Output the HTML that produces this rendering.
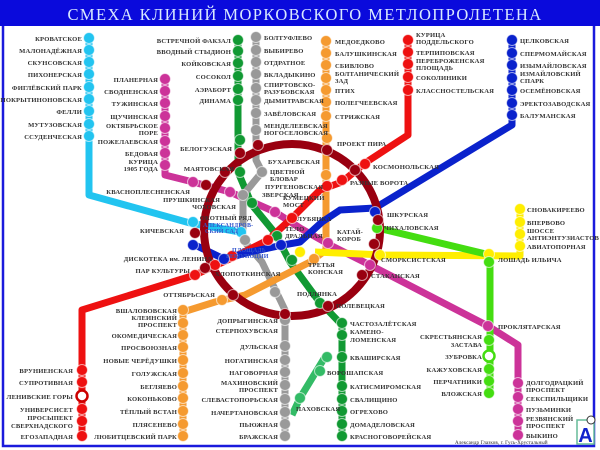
<!DOCTYPE html>
<html><head><meta charset="utf-8"><style>
html,body{margin:0;padding:0;background:#fff;}
svg{display:block;}
text{font-family:"Liberation Serif","DejaVu Serif",serif;font-weight:bold;font-size:6.6px;fill:#333;letter-spacing:0.15px;}
.r{text-anchor:end;}
</style></head><body>
<svg width="600" height="450" viewBox="0 0 600 450" xmlns="http://www.w3.org/2000/svg">
<rect x="0" y="0" width="600" height="450" fill="#fff"/>
<rect x="0" y="0" width="600" height="26" fill="#0a0adc"/>
<text x="305" y="20" style="font-size:16.5px;fill:#d8e8ff;font-weight:normal;text-anchor:middle;letter-spacing:1.4px">СМЕХА КЛИНИЙ МОРКОВСКОГО МЕТЛОПРОЛЕТЕНА</text>
<path d="M3 26 V446 H594 V26" fill="none" stroke="#1a1adc" stroke-width="2.5"/>

<g fill="none" stroke-width="7" stroke-linejoin="round">
<path d="M89 38 V195 L190 223 L240 232" stroke="#22c4f0"/>
<path d="M165 79 V175 L193 182 L230 192 L275 212 L300 228 L330 245 L370 265 L488 326 L518 345 V435" stroke="#cc3399"/>
<path d="M238 40 V172 L252 205 L275 233 L290 262 L318 300 L342 325 V436" stroke="#119933"/>
<path d="M325 357 L300 398 L292 415" stroke="#33bb66"/>
<path d="M256 37 V160 L262 172 L243 195 L243 240 L262 262 L285 310 V437" stroke="#999"/>
<path d="M326 41 V250 L310 262 L245 295 L215 302 L183 312 V436" stroke="#f59a30"/>
<path d="M408 40 V135 L365 163 L342 182 L320 190 L292 218 L268 240 L232 258 L195 275 L82 310 V436" stroke="#ee1111"/>
<path d="M512 40 V125 L375 208 L340 210 L322 222 L300 242 L283 245 L250 252 L224 259 L195 245" stroke="#0a22cc"/>
<path d="M520 209 V256 L385 255 L315 252" stroke="#ffee00"/>
<path d="M378 228 L490 255 V393" stroke="#44dd11"/>
<ellipse cx="292" cy="230" rx="88" ry="86" stroke="#990010" stroke-width="8"/>
</g>

<g stroke="#fff" stroke-width="1" stroke-opacity="0.6">
<g fill="#22c4f0"><circle cx="89" cy="38" r="5.5"/><circle cx="89" cy="50" r="5.5"/><circle cx="89" cy="62" r="5.5"/><circle cx="89" cy="74" r="5.5"/><circle cx="89" cy="87" r="5.5"/><circle cx="89" cy="99" r="5.5"/><circle cx="89" cy="111" r="5.5"/><circle cx="89" cy="124" r="5.5"/><circle cx="89" cy="136" r="5.5"/><circle cx="193" cy="222" r="5.5"/><circle cx="241" cy="232" r="5.5"/></g>
<g fill="#cc3399"><circle cx="165" cy="79" r="5.5"/><circle cx="165" cy="91" r="5.5"/><circle cx="165" cy="103" r="5.5"/><circle cx="165" cy="116" r="5.5"/><circle cx="165" cy="128" r="5.5"/><circle cx="165" cy="141" r="5.5"/><circle cx="165" cy="153" r="5.5"/><circle cx="165" cy="165" r="5.5"/><circle cx="193" cy="182" r="5.5"/><circle cx="230" cy="192" r="5.5"/><circle cx="275" cy="212" r="5.5"/><circle cx="328" cy="243" r="5.5"/><circle cx="370" cy="265" r="5.5"/><circle cx="488" cy="326" r="5.5"/><circle cx="518" cy="383" r="5.5"/><circle cx="518" cy="397" r="5.5"/><circle cx="518" cy="409" r="5.5"/><circle cx="518" cy="421" r="5.5"/><circle cx="518" cy="435" r="5.5"/></g>
<g fill="#119933"><circle cx="238" cy="40" r="5.5"/><circle cx="238" cy="51" r="5.5"/><circle cx="238" cy="63" r="5.5"/><circle cx="238" cy="76" r="5.5"/><circle cx="238" cy="89" r="5.5"/><circle cx="238" cy="100" r="5.5"/><circle cx="240" cy="140" r="5.5"/><circle cx="240" cy="172" r="5.5"/><circle cx="252" cy="203" r="5.5"/><circle cx="277" cy="236" r="5.5"/><circle cx="292" cy="260" r="5.5"/><circle cx="320" cy="303" r="5.5"/><circle cx="342" cy="323" r="5.5"/><circle cx="342" cy="335" r="5.5"/><circle cx="342" cy="357" r="5.5"/><circle cx="342" cy="386" r="5.5"/><circle cx="342" cy="399" r="5.5"/><circle cx="342" cy="411" r="5.5"/><circle cx="342" cy="424" r="5.5"/><circle cx="342" cy="436" r="5.5"/></g>
<g fill="#33bb66"><circle cx="327" cy="357" r="5.5"/><circle cx="320" cy="371" r="5.5"/><circle cx="300" cy="398" r="5.5"/></g>
<g fill="#999"><circle cx="256" cy="37" r="5.5"/><circle cx="256" cy="50" r="5.5"/><circle cx="256" cy="62" r="5.5"/><circle cx="256" cy="74" r="5.5"/><circle cx="256" cy="88" r="5.5"/><circle cx="256" cy="100" r="5.5"/><circle cx="256" cy="113" r="5.5"/><circle cx="256" cy="130" r="5.5"/><circle cx="262" cy="172" r="5.5"/><circle cx="243" cy="195" r="5.5"/><circle cx="245" cy="240" r="5.5"/><circle cx="275" cy="292" r="5.5"/><circle cx="285" cy="320" r="5.5"/><circle cx="285" cy="346" r="5.5"/><circle cx="285" cy="360" r="5.5"/><circle cx="285" cy="372" r="5.5"/><circle cx="285" cy="385" r="5.5"/><circle cx="285" cy="399" r="5.5"/><circle cx="285" cy="412" r="5.5"/><circle cx="285" cy="424" r="5.5"/><circle cx="285" cy="436" r="5.5"/></g>
<g fill="#f59a30"><circle cx="326" cy="41" r="5.5"/><circle cx="326" cy="53" r="5.5"/><circle cx="326" cy="65" r="5.5"/><circle cx="326" cy="78" r="5.5"/><circle cx="326" cy="90" r="5.5"/><circle cx="326" cy="102" r="5.5"/><circle cx="326" cy="116" r="5.5"/><circle cx="327" cy="138" r="5.5"/><circle cx="326" cy="175" r="5.5"/><circle cx="314" cy="259" r="5.5"/><circle cx="222" cy="300" r="5.5"/><circle cx="183" cy="310" r="5.5"/><circle cx="183" cy="323" r="5.5"/><circle cx="183" cy="335" r="5.5"/><circle cx="183" cy="347" r="5.5"/><circle cx="183" cy="360" r="5.5"/><circle cx="183" cy="373" r="5.5"/><circle cx="183" cy="386" r="5.5"/><circle cx="183" cy="398" r="5.5"/><circle cx="183" cy="411" r="5.5"/><circle cx="183" cy="424" r="5.5"/><circle cx="183" cy="436" r="5.5"/></g>
<g fill="#ee1111"><circle cx="408" cy="40" r="5.5"/><circle cx="408" cy="52" r="5.5"/><circle cx="408" cy="64" r="5.5"/><circle cx="408" cy="77" r="5.5"/><circle cx="408" cy="90" r="5.5"/><circle cx="365" cy="164" r="5.5"/><circle cx="342" cy="180" r="5.5"/><circle cx="327" cy="186" r="5.5"/><circle cx="292" cy="218" r="5.5"/><circle cx="268" cy="240" r="5.5"/><circle cx="232" cy="256" r="5.5"/><circle cx="215" cy="265" r="5.5"/><circle cx="195" cy="275" r="5.5"/><circle cx="82" cy="370" r="5.5"/><circle cx="82" cy="382" r="5.5"/><circle cx="82" cy="409" r="5.5"/><circle cx="82" cy="421" r="5.5"/><circle cx="82" cy="436" r="5.5"/></g>
<circle cx="82" cy="396" r="5.5" fill="#fff" stroke="#cc0000" stroke-width="2.5" stroke-opacity="1"/>
<g fill="#0a22cc"><circle cx="512" cy="40" r="5.5"/><circle cx="512" cy="53" r="5.5"/><circle cx="512" cy="65" r="5.5"/><circle cx="512" cy="78" r="5.5"/><circle cx="512" cy="90" r="5.5"/><circle cx="512" cy="103" r="5.5"/><circle cx="512" cy="115" r="5.5"/><circle cx="375" cy="212" r="5.5"/><circle cx="281" cy="245" r="5.5"/><circle cx="224" cy="259" r="5.5"/><circle cx="193" cy="245" r="5.5"/></g>
<g fill="#ffee00"><circle cx="520" cy="209" r="5.5"/><circle cx="520" cy="222" r="5.5"/><circle cx="520" cy="234" r="5.5"/><circle cx="520" cy="246" r="5.5"/><circle cx="489" cy="254" r="5.5"/><circle cx="380" cy="255" r="5.5"/><circle cx="300" cy="252" r="5.5"/></g>
<g fill="#44dd11"><circle cx="377" cy="228" r="5.5"/><circle cx="489" cy="262" r="5.5"/><circle cx="489" cy="340" r="5.5"/><circle cx="489" cy="369" r="5.5"/><circle cx="489" cy="381" r="5.5"/><circle cx="489" cy="393" r="5.5"/></g>
<circle cx="489" cy="356" r="5.5" fill="#fff" stroke="#44dd11" stroke-width="2.5" stroke-opacity="1"/>
<g fill="#990010"><circle cx="258" cy="145" r="5.5"/><circle cx="240" cy="153" r="5.5"/><circle cx="327" cy="150" r="5.5"/><circle cx="355" cy="170" r="5.5"/><circle cx="378" cy="220" r="5.5"/><circle cx="374" cy="244" r="5.5"/><circle cx="362" cy="275" r="5.5"/><circle cx="328" cy="306" r="5.5"/><circle cx="285" cy="314" r="5.5"/><circle cx="233" cy="295" r="5.5"/><circle cx="205" cy="268" r="5.5"/><circle cx="195" cy="233" r="5.5"/><circle cx="206" cy="185" r="5.5"/><circle cx="225" cy="172" r="5.5"/></g>
</g>

<g>
<text class="r" x="82" y="41">КРОВАТСКОЕ</text><text class="r" x="82" y="53">МАЛОНАДЁЖНАЯ</text><text class="r" x="82" y="65">СКУНСОВСКАЯ</text><text class="r" x="82" y="77">ПИХОНЕРСКАЯ</text><text class="r" x="82" y="90">ФИГЛЁВСКИЙ ПАРК</text><text class="r" x="82" y="102">ПОКРЫТИНОНОВСКАЯ</text><text class="r" x="82" y="114">ФЕЛЛИ</text><text class="r" x="82" y="127">МУТУЗОВСКАЯ</text><text class="r" x="82" y="139">ССУДЕНЧЕСКАЯ</text>
<text class="r" x="158" y="82">ПЛАНЕРНАЯ</text><text class="r" x="158" y="94">СВОДНЕНСКАЯ</text><text class="r" x="158" y="106">ТУЖИНСКАЯ</text><text class="r" x="158" y="119">ЩУЧИНСКАЯ</text><text class="r" x="158" y="128">ОКТЯБРЬСКОЕ</text><text class="r" x="158" y="135">ПОРЕ</text><text class="r" x="158" y="144">ПОЖЕЛАЕВСКАЯ</text><text class="r" x="158" y="156">БЕДОВАЯ</text><text class="r" x="158" y="164">КУРИЦА</text><text class="r" x="158" y="171">1905 ГОДА</text>
<text class="r" x="231" y="43">ВСТРЕЧНОЙ ФАКЗАЛ</text><text class="r" x="231" y="54">ВВОДНЫЙ СТЫДИОН</text><text class="r" x="231" y="66">КОЙКОВСКАЯ</text><text class="r" x="231" y="79">СОСОКОЛ</text><text class="r" x="231" y="92">АЭРАБОРТ</text><text class="r" x="231" y="103">ДИНАМА</text>
<text class="r" x="232" y="151">БЕЛОГУЗСКАЯ</text><text class="r" x="234" y="171">МАЯТОВСКАЯ</text><text class="r" x="190" y="194">КВАСНОПЛЕСНЕНСКАЯ</text><text class="r" x="220" y="202">ПРУШКИНСКАЯ</text><text class="r" x="236" y="209">ЧОХОВСКАЯ</text><text class="r" x="252" y="220">ОКОТНЫЙ РЯД</text><text class="r" x="184" y="233">КИЧЕВСКАЯ</text><text class="r" x="212" y="261">ДИСКОТЕКА им. ЛЕНИНА</text><text class="r" x="190" y="273">ПАР КУЛЬТУРЫ</text><text class="r" x="215" y="297">ОТТЯБРЬСКАЯ</text>
<text class="r" x="73" y="373">ВРУНИЕНСКАЯ</text><text class="r" x="73" y="385">СУПРОТИВНАЯ</text><text class="r" x="73" y="399">ЛЕНИВСКИЕ ГОРЫ</text><text class="r" x="73" y="412">УНИВЕРСИСЕТ</text><text class="r" x="73" y="420">ПРОСЫПЕКТ</text><text class="r" x="73" y="428">СВЕРХНАДСКОГО</text><text class="r" x="73" y="439">ЕГОЗАПАДНАЯ</text>
<text class="r" x="177" y="313">ВШАЛОВОВСКАЯ</text><text class="r" x="177" y="320">КЛЕИНСКИЙ</text><text class="r" x="177" y="327">ПРОСПЕКТ</text><text class="r" x="177" y="338">ОКОМЕДИЧЕСКАЯ</text><text class="r" x="177" y="350">ПРОСВОЮЗНАЯ</text><text class="r" x="177" y="363">НОВЫЕ ЧЕРЁДУШКИ</text><text class="r" x="177" y="376">ГОЛУЖСКАЯ</text><text class="r" x="177" y="389">БЕГЛЯЕВО</text><text class="r" x="177" y="401">КОКОНЬКОВО</text><text class="r" x="177" y="414">ТЁПЛЫЙ ВСТАН</text><text class="r" x="177" y="427">ПЛЯСЕНЕВО</text><text class="r" x="177" y="439">ЛЮБИТЦЕВСКИЙ ПАРК</text>
<text class="r" x="278" y="323">ДОПРЫГИНСКАЯ</text><text class="r" x="278" y="333">СТЕРПОХУВСКАЯ</text><text class="r" x="278" y="349">ДУЛЬСКАЯ</text><text class="r" x="278" y="363">НОГАТИНСКАЯ</text><text class="r" x="278" y="375">НАГОВОРНАЯ</text><text class="r" x="278" y="385">МАХИНОВСКИЙ</text><text class="r" x="278" y="392">ПРОСПЕКТ</text><text class="r" x="278" y="402">СЛЕВАСТОПОРЬСКАЯ</text><text class="r" x="278" y="415">НАЧЕРТАНОВСКАЯ</text><text class="r" x="278" y="427">ПЬЮЖНАЯ</text><text class="r" x="278" y="439">БРАЖСКАЯ</text>
<text class="r" x="482" y="339">СКРЕСТЬЯНСКАЯ</text><text class="r" x="482" y="347">ЗАСТАВА</text><text class="r" x="482" y="359">ЗУБРОВКА</text><text class="r" x="482" y="372">КАЖУХОВСКАЯ</text><text class="r" x="482" y="384">ПЕРЧАТНИКИ</text><text class="r" x="482" y="396">ВЛОЖСКАЯ</text>
<text x="264" y="40">БОЛТУФЛЕВО</text><text x="264" y="53">ВЫБИРЕВО</text><text x="264" y="65">ОТДРАТНОЕ</text><text x="264" y="77">ВКЛАДЫКИНО</text><text x="264" y="87">СПИРТОВСКО-</text><text x="264" y="94">РАЗУБОВСКАЯ</text><text x="264" y="103">ДЫМИТРАВСКАЯ</text><text x="264" y="116">ЗАВЁЛОВСКАЯ</text><text x="264" y="128">МЕНДЕЛЕЕВСКАЯ</text><text x="264" y="135">НОГОСЕЛОВСКАЯ</text>
<text x="335" y="44">МЕДОЕДКОВО</text><text x="335" y="56">БАЛУШКИНСКАЯ</text><text x="335" y="68">СБИВЛОВО</text><text x="335" y="76">БОЛТАНИЧЕСКИЙ</text><text x="335" y="83">ЗАД</text><text x="335" y="93">ПТИХ</text><text x="335" y="105">ПОЛЕГЧЕЕВСКАЯ</text><text x="335" y="119">СТРИЖСКАЯ</text>
<text x="416" y="37">КУРИЦА</text><text x="416" y="44">ПОДДЕЛЬСКОГО</text><text x="416" y="55">ТЕРПИПОВСКАЯ</text><text x="416" y="63">ПЕРЕБРОЖЕНСКАЯ</text><text x="416" y="70">ПЛОЩАДЬ</text><text x="416" y="80">СОКОЛИНИКИ</text><text x="416" y="93">КЛАССНОСТЕЛЬСКАЯ</text>
<text x="520" y="43">ЦЕЛКОВСКАЯ</text><text x="520" y="56">СПЕРМОМАЙСКАЯ</text><text x="520" y="68">ИЗЫМАЙЛОВСКАЯ</text><text x="520" y="76">ИЗМАЙЛОВСКИЙ</text><text x="520" y="83">СПАРК</text><text x="520" y="93">ОСЕМЁНОВСКАЯ</text><text x="520" y="106">ЭРЕКТОЗАВОДСКАЯ</text><text x="520" y="118">БАЛУМАНСКАЯ</text>
<text x="527" y="212">СНОВАКИРЕЕВО</text><text x="527" y="225">ВПЕРВОВО</text><text x="527" y="233">ШОССЕ</text><text x="527" y="240">АНТИЭНТУЗИАСТОВ</text><text x="527" y="249">АВИАТОПОРНАЯ</text><text x="498" y="262">ЛОШАДЬ ИЛЬИЧА</text>
<text x="337" y="146">ПРОЕКТ ПИРА</text><text x="373" y="169">КОСМОНОЛЬСКАЯ</text><text x="350" y="185">РАЗНЫЕ ВОРОТА</text><text x="387" y="217">ШКУРСКАЯ</text><text x="384" y="230">ЧИХАЛОВСКАЯ</text><text x="381" y="262">СМОРКСИСТСКАЯ</text><text x="371" y="278">СТАКАНСКАЯ</text><text x="336" y="308">ПОЛЕВЕЦКАЯ</text><text x="297" y="296">ПОДЛЯНКА</text><text x="215" y="276">ХЛОПОТКИНСКАЯ</text>
<text x="268" y="164">БУХАРЕВСКАЯ</text><text x="270" y="174">ЦВЕТНОЙ</text><text x="270" y="181">БЛОВАР</text><text x="265" y="189">ПУРГЕНОВСКАЯ</text><text x="262" y="197">ЗВЕРСКАЯ</text><text x="283" y="200">КУМЕЦКИЙ</text><text x="283" y="207">МОСТ</text><text x="297" y="221">ЛУБЯНКА</text><text x="285" y="231">ТЕЛО</text><text x="285" y="238">ДРАЛЬНАЯ</text><text x="337" y="234">КАТАЙ-</text><text x="337" y="241">КОРОБ</text><text x="308" y="267">ТРЕТЬЯ</text><text x="308" y="274">КОНСКАЯ</text>
<text x="203" y="227" style="fill:#3355cc;font-size:6px">АЛЕКСАНДРОВ-</text><text x="205" y="233" style="fill:#3355cc;font-size:6px">СКИЙ САД</text><text x="232" y="252" style="fill:#3355cc;font-size:6px">ПЛОЩАДЬ</text><text x="226" y="258" style="fill:#3355cc;font-size:6px">РЕВОЛЮЦИИ</text>
<text x="350" y="326">ЧАСТОЗАЛЁТСКАЯ</text><text x="350" y="334">КАМЕНО-</text><text x="350" y="342">ЛОМЕНСКАЯ</text><text x="350" y="360">КВАШИРСКАЯ</text><text x="327" y="375">ВОРОШАПСКАЯ</text><text x="350" y="389">КАТИСМИРОМСКАЯ</text><text x="350" y="402">СВАЛИЩИНО</text><text x="350" y="414">ОГРЕХОВО</text><text x="350" y="427">ДОМАДЕЛОВСКАЯ</text><text x="350" y="439">КРАСНОГОВОРЕЙСКАЯ</text><text x="296" y="411">ПАХОВСКАЯ</text>
<text x="498" y="329">ПРОКЛЯТАРСКАЯ</text>
<text x="526" y="385">ДОЛГОДРАЦКИЙ</text><text x="526" y="392">ПРОСПЕКТ</text><text x="526" y="401">СЕКСПИЛЬЩИКИ</text><text x="526" y="412">ПУЗЬМИНКИ</text><text x="526" y="421">РЕЗВЯНСКИЙ</text><text x="526" y="428">ПРОСПЕКТ</text><text x="526" y="438">ВЫКИНО</text>
<text x="455" y="444" style="font-size:5px;font-weight:normal;fill:#222">Александр Глазков, г. Гусь-Хрустальный</text>
</g>
<rect x="577" y="420" width="17" height="24" fill="#fff" stroke="#66bb99" stroke-width="1.5"/>
<text x="585.5" y="442" style="font-family:'Liberation Sans',sans-serif;font-size:20px;fill:#1122cc;text-anchor:middle">A</text>
<circle cx="591" cy="420" r="4" fill="#fff" stroke="#333" stroke-width="1"/>
</svg>
</body></html>
